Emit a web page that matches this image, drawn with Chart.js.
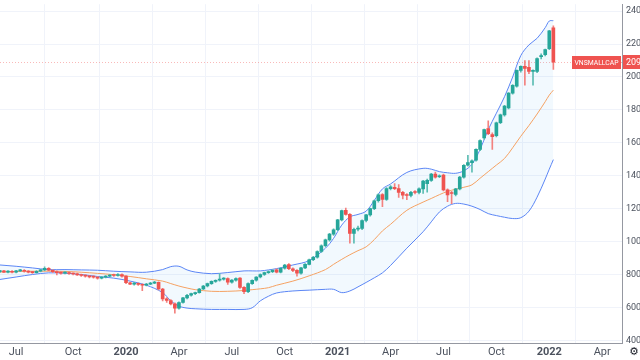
<!DOCTYPE html>
<html>
<head>
<meta charset="utf-8">
<script src="https://cdn.jsdelivr.net/npm/chart.js@4.4.0/dist/chart.umd.min.js"></script>
<style>
  html, body { margin: 0; padding: 0; background: #fff; overflow: hidden; }
  #wrap { width: 652px; height: 360px; }
</style>
</head>
<body>
<div id="wrap"><canvas id="chart" width="652" height="360"></canvas></div>
<script>
/*////////////////////////////////
///          Data              ///
////////////////////////////////*/

const symbolName = 'VNSMALLCAP';
const lastPrice = 2090;
const firstWeek = '2019-06-03';   // weekly candles, one per Monday

const opens = [
  818, 822, 815, 820, 814, 822, 826, 820, 815, 812, 820, 828, 838, 826, 818, 812, 808, 812, 806, 803,
  798, 794, 790, 786, 784, 778, 784, 790, 796, 794, 800, 790, 750, 742, 746, 740, 735, 742, 748, 752,
  712, 652, 642, 622, 596, 630, 658, 674, 684, 690, 712, 730, 745, 758, 765, 772, 776, 754, 766, 778,
  722, 696, 745, 765, 785, 800, 812, 818, 828, 815, 838, 860, 835, 826, 808, 840, 862, 890, 905, 940,
  975, 1010, 1045, 1072, 1132, 1190, 1165, 1050, 1076, 1080, 1128, 1162, 1200, 1248, 1286, 1256, 1322, 1330, 1322, 1300,
  1285, 1280, 1302, 1298, 1320, 1352, 1372, 1410, 1394, 1404, 1314, 1296, 1286, 1320, 1392, 1464, 1480, 1494, 1560, 1630,
  1686, 1650, 1644, 1722, 1770, 1812, 1902, 1944, 2040, 2064, 2058, 2034, 2034, 2124, 2136, 2172, 2298
];
const highs = [
  826, 826, 824, 824, 826, 832, 830, 824, 820, 824, 832, 846, 842, 830, 822, 816, 818, 816, 810, 808,
  802, 798, 794, 792, 788, 788, 794, 800, 802, 806, 804, 794, 754, 752, 750, 744, 746, 752, 758, 756,
  716, 660, 648, 628, 634, 662, 680, 688, 694, 716, 734, 748, 762, 768, 806, 782, 780, 770, 780, 782,
  726, 750, 768, 788, 804, 815, 822, 830, 834, 842, 862, 866, 840, 830, 844, 866, 894, 910, 944, 980,
  1015, 1050, 1078, 1136, 1192, 1204, 1170, 1082, 1095, 1132, 1166, 1204, 1252, 1290, 1292, 1328, 1340, 1352, 1346, 1306,
  1292, 1306, 1310, 1326, 1372, 1380, 1414, 1422, 1406, 1410, 1320, 1306, 1324, 1396, 1468, 1524, 1496, 1564, 1618, 1684,
  1734, 1660, 1726, 1774, 1828, 1906, 1954, 2044, 2068, 2100, 2100, 2044, 2116, 2140, 2170, 2284, 2310
];
const lows = [
  812, 812, 810, 810, 810, 818, 815, 810, 806, 808, 816, 824, 822, 812, 798, 802, 804, 800, 798, 794,
  788, 784, 780, 778, 772, 774, 780, 786, 788, 790, 784, 744, 738, 736, 734, 702, 730, 738, 744, 706,
  640, 630, 615, 565, 590, 626, 652, 668, 678, 686, 708, 724, 740, 752, 760, 766, 740, 748, 760, 716,
  684, 690, 740, 760, 780, 795, 806, 812, 810, 810, 832, 830, 818, 790, 802, 836, 858, 884, 900, 934,
  968, 1002, 1038, 1066, 1126, 1160, 990, 990, 1065, 1072, 1120, 1155, 1194, 1240, 1212, 1250, 1314, 1316, 1268, 1260,
  1255, 1272, 1290, 1290, 1292, 1300, 1366, 1386, 1388, 1308, 1242, 1230, 1278, 1314, 1386, 1458, 1422, 1488, 1552, 1620,
  1650, 1560, 1636, 1716, 1762, 1806, 1896, 1938, 2030, 1950, 2020, 1950, 2026, 2110, 2128, 2166, 2046
];
const closes = [
  822, 815, 820, 814, 822, 826, 820, 815, 812, 820, 828, 838, 826, 818, 812, 808, 812, 806, 803, 798,
  794, 790, 786, 784, 778, 784, 790, 796, 794, 800, 790, 750, 742, 746, 740, 735, 742, 748, 752, 712,
  652, 642, 622, 596, 630, 658, 674, 684, 690, 712, 730, 745, 758, 765, 772, 776, 754, 766, 776, 722,
  696, 745, 765, 785, 800, 812, 818, 826, 815, 838, 858, 835, 825, 808, 840, 862, 890, 905, 940, 975,
  1010, 1045, 1072, 1132, 1188, 1165, 1050, 1075, 1082, 1128, 1162, 1200, 1248, 1284, 1256, 1322, 1332, 1322, 1298, 1282,
  1280, 1300, 1298, 1320, 1368, 1372, 1410, 1392, 1400, 1314, 1284, 1292, 1320, 1392, 1464, 1480, 1490, 1560, 1614, 1680,
  1656, 1638, 1722, 1770, 1824, 1902, 1950, 2040, 2064, 2052, 2034, 2036, 2112, 2130, 2166, 2280, 2090
];

// Bollinger bands, at these candle numbers
const bandIdx = [0, 4, 8, 12, 16, 20, 24, 28, 32, 36, 40, 42, 44, 46, 48, 52, 56, 60, 62, 64, 66, 68, 72, 76, 80, 82, 84, 86, 88, 90,
  92, 94, 96, 100, 104, 106, 108, 110, 112, 114, 116, 118, 120, 122, 124, 126, 128, 130, 132, 134, 135, 136];
const bandUpper = [858, 850, 840, 830, 830, 828, 826, 820, 816, 814, 830, 848, 850, 828, 815, 805, 812, 822, 822, 822, 828, 836, 858, 885, 960, 1020, 1100, 1150, 1165, 1185,
  1250, 1320, 1350, 1420, 1445, 1440, 1425, 1418, 1415, 1430, 1470, 1560, 1680, 1780, 1880, 2000, 2130, 2195, 2235, 2300, 2340, 2342];
const bandMiddle = [815, 818, 820, 820, 819, 814, 807, 799, 788, 774, 760, 745, 730, 718, 708, 698, 698, 703, 708, 713, 720, 735, 760, 792, 830, 862, 892, 920, 945, 968,
  1012, 1065, 1105, 1190, 1240, 1262, 1285, 1305, 1318, 1330, 1345, 1385, 1425, 1465, 1505, 1570, 1640, 1705, 1775, 1850, 1890, 1920];
const bandLower = [770, 785, 800, 810, 808, 800, 788, 778, 760, 735, 690, 640, 608, 596, 592, 588, 588, 588, 598, 640, 668, 688, 700, 705, 710, 710, 690, 700, 725, 752,
  780, 810, 855, 960, 1060, 1120, 1180, 1215, 1232, 1228, 1215, 1195, 1170, 1158, 1148, 1140, 1145, 1185, 1270, 1380, 1440, 1498];

const xTickDates = ['2019-07-01', '2019-10-07', '2020-01-06', '2020-04-06', '2020-07-06', '2020-10-05',
  '2021-01-04', '2021-04-05', '2021-07-05', '2021-10-04', '2022-01-03', '2022-04-04'];
const xTickLabels = ['Jul', 'Oct', '2020', 'Apr', 'Jul', 'Oct', '2021', 'Apr', 'Jul', 'Oct', '2022', 'Apr'];
const priceTicks = [400, 600, 800, 1000, 1200, 1400, 1600, 1800, 2000, 2200, 2400];

/*////////////////////////////////
///          Helpers           ///
////////////////////////////////*/

const upColor = '#26a69a';
const downColor = '#ef5350';
const upWick = '#5cbdb3';
const downWick = '#f3827f';

function weekOf(d) {
  return (Date.parse(d) - Date.parse('2020-01-01')) / (7 * 864e5);
}
const week0 = weekOf(firstWeek);
function candleX(i) { return week0 + i; }

const wicks = closes.map((c, i) => ({ x: candleX(i), y: [lows[i], highs[i]] }));
const bodies = closes.map((c, i) => ({ x: candleX(i), y: [opens[i], c] }));
const isUp = (i) => closes[i] >= opens[i];

const tickWeeks = xTickDates.map(weekOf);

/*////////////////////////////////
///        Price label         ///
////////////////////////////////*/

const priceLine = {
  id: 'priceLine',
  beforeDatasetsDraw(chart) {
    const { ctx, chartArea, scales } = chart;
    const y = Math.round(scales.y.getPixelForValue(lastPrice)) + 0.5;
    ctx.save();
    ctx.strokeStyle = 'rgba(239, 83, 80, 0.4)';
    ctx.lineWidth = 1;
    ctx.setLineDash([1, 2]);
    ctx.beginPath();
    ctx.moveTo(chartArea.left, y);
    ctx.lineTo(chartArea.right, y);
    ctx.stroke();
    ctx.restore();
  },
  afterDraw(chart) {
    const { ctx, chartArea, scales } = chart;
    const y = Math.round(scales.y.getPixelForValue(lastPrice));
    ctx.save();
    ctx.fillStyle = downColor;
    ctx.fillRect(chartArea.right - 50, y - 6, 49, 13);
    ctx.fillRect(chartArea.right + 1, y - 7, 40, 14);
    ctx.fillStyle = '#fff';
    ctx.font = '8px Roboto';
    ctx.textBaseline = 'middle';
    ctx.textAlign = 'center';
    ctx.fillText(symbolName, chartArea.right - 25.5, y + 1, 44);
    ctx.textAlign = 'left';
    ctx.font = '9px Roboto';
    ctx.fillText(String(lastPrice), chartArea.right + 4, y + 1);
    // settings gear at the corner
    ctx.fillStyle = '#131722';
    ctx.font = '11px "DejaVu Sans"';
    ctx.fillText('\u2699', chartArea.right + 7, chartArea.bottom + 9);
    ctx.restore();
  }
};

/*////////////////////////////////
///          Chart             ///
////////////////////////////////*/

Chart.defaults.font.family = 'Roboto';
Chart.defaults.font.size = 11;

const chart = new Chart(document.getElementById('chart').getContext('2d'), {
  type: 'bar',
  data: {
    datasets: [
      {
        type: 'line',
        label: 'Upper',
        data: bandIdx.map((k, j) => ({ x: candleX(k), y: bandUpper[j] })),
        borderColor: '#5b86f5',
        borderWidth: 1,
        pointRadius: 0,
        tension: 0.35,
        fill: false,
        order: 2
      },
      {
        type: 'line',
        label: 'Basis',
        data: bandIdx.map((k, j) => ({ x: candleX(k), y: bandMiddle[j] })),
        borderColor: '#f5a263',
        borderWidth: 1,
        pointRadius: 0,
        tension: 0.35,
        fill: false,
        order: 2
      },
      {
        type: 'line',
        label: 'Lower',
        data: bandIdx.map((k, j) => ({ x: candleX(k), y: bandLower[j] })),
        borderColor: '#5b86f5',
        borderWidth: 1,
        pointRadius: 0,
        tension: 0.35,
        fill: { target: 0 },
        backgroundColor: 'rgba(33, 150, 243, 0.06)',
        order: 2
      },
      {
        label: 'Wicks',
        data: wicks,
        backgroundColor: (c) => isUp(c.dataIndex) ? upWick : downWick,
        barThickness: 1,
        grouped: false,
        borderWidth: 0,
        order: 1
      },
      {
        label: 'Bodies',
        data: bodies,
        backgroundColor: (c) => isUp(c.dataIndex) ? upColor : downColor,
        barThickness: 3,
        minBarLength: 1,
        grouped: false,
        borderWidth: 0,
        order: 0
      }
    ]
  },
  options: {
    responsive: false,
    animation: false,
    devicePixelRatio: 1,
    layout: { padding: 0 },
    plugins: {
      legend: { display: false },
      tooltip: { enabled: false }
    },
    scales: {
      x: {
        type: 'linear',
        min: -30.25,
        max: 122.58,
        offset: false,
        afterBuildTicks: (scale) => {
          scale.ticks = tickWeeks.map(v => ({ value: v }));
        },
        afterFit: (scale) => { scale.height = 17; },
        ticks: {
          autoSkip: false,
          maxRotation: 0,
          padding: 3,
          color: '#4c525e',
          font: (c) => ({
            size: 11,
            weight: /^\d{4}$/.test(xTickLabels[c.index] || '') ? 'bold' : 'normal'
          }),
          callback: (v, i) => xTickLabels[i]
        },
        grid: { color: '#f0f3fa', drawTicks: false },
        border: { display: true, color: '#9598a1' }
      },
      y: {
        type: 'linear',
        position: 'right',
        min: 384,
        max: 2442,
        afterBuildTicks: (scale) => {
          scale.ticks = priceTicks.map(v => ({ value: v }));
        },
        afterFit: (scale) => { scale.width = 30; },
        ticks: {
          padding: 4,
          color: '#4c525e',
          font: { size: 9, lineHeight: 0.05 },
          callback: (v) => String(v)
        },
        grid: { color: '#f0f3fa', drawTicks: false },
        border: { display: true, color: '#9598a1' }
      }
    }
  },
  plugins: [priceLine]
});
</script>
</body>
</html>
